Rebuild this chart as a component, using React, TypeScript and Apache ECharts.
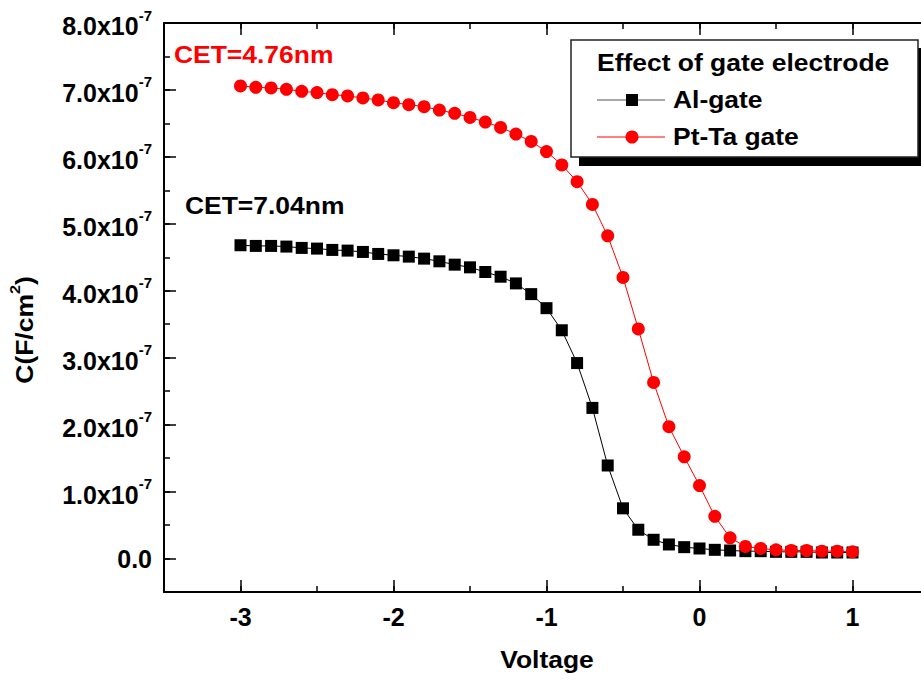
import { useEffect, useRef } from 'react';
import * as echarts from 'echarts';

// Gate voltage (V)
const voltage = [
  -3.0, -2.9, -2.8, -2.7, -2.6, -2.5, -2.4, -2.3, -2.2, -2.1,
  -2.0, -1.9, -1.8, -1.7, -1.6, -1.5, -1.4, -1.3, -1.2, -1.1,
  -1.0, -0.9, -0.8, -0.7, -0.6, -0.5, -0.4, -0.3, -0.2, -0.1,
  0.0, 0.1, 0.2, 0.3, 0.4, 0.5, 0.6, 0.7, 0.8, 0.9, 1.0,
];

// Capacitance in units of 1e-7 F/cm^2
const alGate = [
  4.68, 4.67, 4.67, 4.66, 4.64, 4.63, 4.61, 4.60, 4.58, 4.55,
  4.53, 4.51, 4.48, 4.44, 4.39, 4.35, 4.28, 4.21, 4.11, 3.95,
  3.74, 3.41, 2.92, 2.25, 1.39, 0.75, 0.43, 0.28, 0.21, 0.17,
  0.15, 0.13, 0.12, 0.11, 0.11, 0.10, 0.10, 0.10, 0.09, 0.09, 0.09,
];

const ptTaGate = [
  7.06, 7.04, 7.03, 7.01, 6.98, 6.96, 6.93, 6.91, 6.88, 6.85,
  6.81, 6.78, 6.75, 6.70, 6.65, 6.59, 6.52, 6.44, 6.34, 6.23,
  6.08, 5.88, 5.63, 5.29, 4.82, 4.20, 3.43, 2.63, 1.97, 1.52,
  1.09, 0.63, 0.31, 0.18, 0.15, 0.13, 0.12, 0.12, 0.11, 0.11, 0.10,
];

const seriesNames = ['Al-gate', 'Pt-Ta gate'];
const legendTitle = 'Effect of gate electrode';
const annotations = ['CET=4.76nm', 'CET=7.04nm'];
const yExponent = '-7';

const FONT = '"Liberation Sans", Arial, sans-serif';
const RED = '#ff0000';
const STRETCH = 1.15;

const isWhole = (v: number) => Math.abs(v - Math.round(v)) < 1e-6;

const minorAxisCommon = {
  type: 'value' as const,
  axisLine: { show: false, onZero: false },
  axisTick: { show: true, inside: true, length: 6, lineStyle: { color: '#000', width: 1.5 } },
  axisLabel: { show: false },
  splitLine: { show: false },
};

const majorLine = { show: true, onZero: false, lineStyle: { color: '#000', width: 2 } };
const majorTick = { show: true, inside: true, length: 12, lineStyle: { color: '#000', width: 1.5 } };

function textEl(text: string, x: number, y: number, fill: string, extra: any = {}) {
  return {
    type: 'text',
    x,
    y,
    scaleX: STRETCH,
    style: {
      text,
      fill,
      fontSize: 23,
      fontWeight: 'bold',
      fontFamily: FONT,
      align: 'left',
      verticalAlign: 'middle',
      ...extra,
    },
  };
}

export default function App() {
  const ref = useRef<HTMLDivElement>(null);

  useEffect(() => {
    if (!ref.current) return;
    const chart = echarts.init(ref.current, undefined, { renderer: 'svg' });

    const option: any = {
      animation: false,
      backgroundColor: '#ffffff',
      // the frame runs past the right edge of the canvas
      grid: {
        left: 164,
        top: 23,
        width: 765,
        height: 569,
        containLabel: false,
        outerBoundsMode: 'none',
      },
      xAxis: [
        {
          type: 'value',
          position: 'bottom',
          min: -3.5,
          max: 1.5,
          splitNumber: 5,
          axisLine: majorLine,
          axisTick: majorTick,
          axisLabel: {
            show: true,
            margin: 12,
            fontSize: 25,
            fontWeight: 'bold',
            fontFamily: FONT,
            color: '#000',
            formatter: (v: number) => (isWhole(v) ? String(Math.round(v)) : ''),
          },
          splitLine: { show: false },
        },
        { ...minorAxisCommon, position: 'bottom', min: -3.5, max: 1.5, interval: 0.5 },
        {
          type: 'value',
          position: 'top',
          min: -3.5,
          max: 1.5,
          splitNumber: 5,
          axisLine: majorLine,
          axisTick: majorTick,
          axisLabel: { show: false },
          splitLine: { show: false },
        },
        { ...minorAxisCommon, position: 'top', min: -3.5, max: 1.5, interval: 0.5 },
      ],
      yAxis: [
        {
          type: 'value',
          position: 'left',
          min: -0.5,
          max: 8,
          splitNumber: 8,
          axisLine: majorLine,
          axisTick: majorTick,
          axisLabel: {
            show: true,
            margin: 12,
            fontSize: 25,
            fontWeight: 'bold',
            fontFamily: FONT,
            color: '#000',
            formatter: (v: number) => {
              if (!isWhole(v) || v < 0) return '';
              if (Math.round(v) === 0) return '0.0';
              return `{b|${v.toFixed(1)}x10}{s|${yExponent}}`;
            },
            rich: {
              b: { fontSize: 25, lineHeight: 25, fontWeight: 'bold', fontFamily: FONT, color: '#000', padding: [6, 0, 0, 0] },
              s: { fontSize: 15, lineHeight: 15, fontWeight: 'bold', fontFamily: FONT, color: '#000', padding: [0, 0, 16, 0] },
            },
          },
          splitLine: { show: false },
        },
        { ...minorAxisCommon, position: 'left', min: -0.5, max: 8, interval: 0.5 },
      ],
      series: [
        {
          type: 'line',
          name: seriesNames[0],
          xAxisIndex: 0,
          yAxisIndex: 0,
          data: voltage.map((v, i) => [v, alGate[i]]),
          symbol: 'rect',
          symbolSize: 12,
          lineStyle: { color: '#000', width: 1 },
          itemStyle: { color: '#000' },
          z: 3,
        },
        {
          type: 'line',
          name: seriesNames[1],
          xAxisIndex: 0,
          yAxisIndex: 0,
          data: voltage.map((v, i) => [v, ptTaGate[i]]),
          symbol: 'circle',
          symbolSize: 13,
          lineStyle: { color: RED, width: 1 },
          itemStyle: { color: RED },
          z: 4,
        },
      ],
      graphic: [
        // axis titles
        textEl('Voltage', 547, 660, '#000', { align: 'center' }),
        {
          type: 'text',
          x: 22,
          y: 330,
          rotation: Math.PI / 2,
          scaleX: STRETCH,
          style: {
            text: '{b|C(F/cm}{s|2}{b|)}',
            align: 'center',
            verticalAlign: 'middle',
            fill: '#000',
            rich: {
              b: { fontSize: 23, lineHeight: 23, fontWeight: 'bold', fontFamily: FONT, fill: '#000', padding: [6, 0, 0, 0] },
              s: { fontSize: 14, lineHeight: 14, fontWeight: 'bold', fontFamily: FONT, fill: '#000', padding: [0, 0, 15, 0] },
            },
          },
        },
        // curve annotations
        textEl(annotations[0], 174, 55, RED),
        textEl(annotations[1], 185, 206, '#000'),
        // legend box with drop shadow
        { type: 'rect', shape: { x: 579, y: 48, width: 350, height: 118 }, style: { fill: '#000' }, z: 10 },
        { type: 'rect', shape: { x: 571, y: 40, width: 347, height: 117 }, style: { fill: '#fff', stroke: '#222', lineWidth: 1.5 }, z: 11 },
        { ...textEl(legendTitle, 597, 63, '#000'), z: 12 },
        { type: 'line', shape: { x1: 597, y1: 100, x2: 665, y2: 100 }, style: { stroke: '#555', lineWidth: 1 }, z: 12 },
        { type: 'rect', shape: { x: 626, y: 94, width: 12, height: 12 }, style: { fill: '#000' }, z: 13 },
        { ...textEl(seriesNames[0], 673, 100, '#000'), z: 12 },
        { type: 'line', shape: { x1: 597, y1: 137, x2: 665, y2: 137 }, style: { stroke: RED, lineWidth: 1 }, z: 12 },
        { type: 'circle', shape: { cx: 632, cy: 137, r: 6.5 }, style: { fill: RED }, z: 13 },
        { ...textEl(seriesNames[1], 673, 137, '#000'), z: 12 },
      ],
    };

    chart.setOption(option);
    return () => chart.dispose();
  }, []);

  return (
    <div
      ref={ref}
      style={{ position: 'fixed', left: 0, top: 0, width: 921, height: 681, background: '#fff' }}
    />
  );
}
